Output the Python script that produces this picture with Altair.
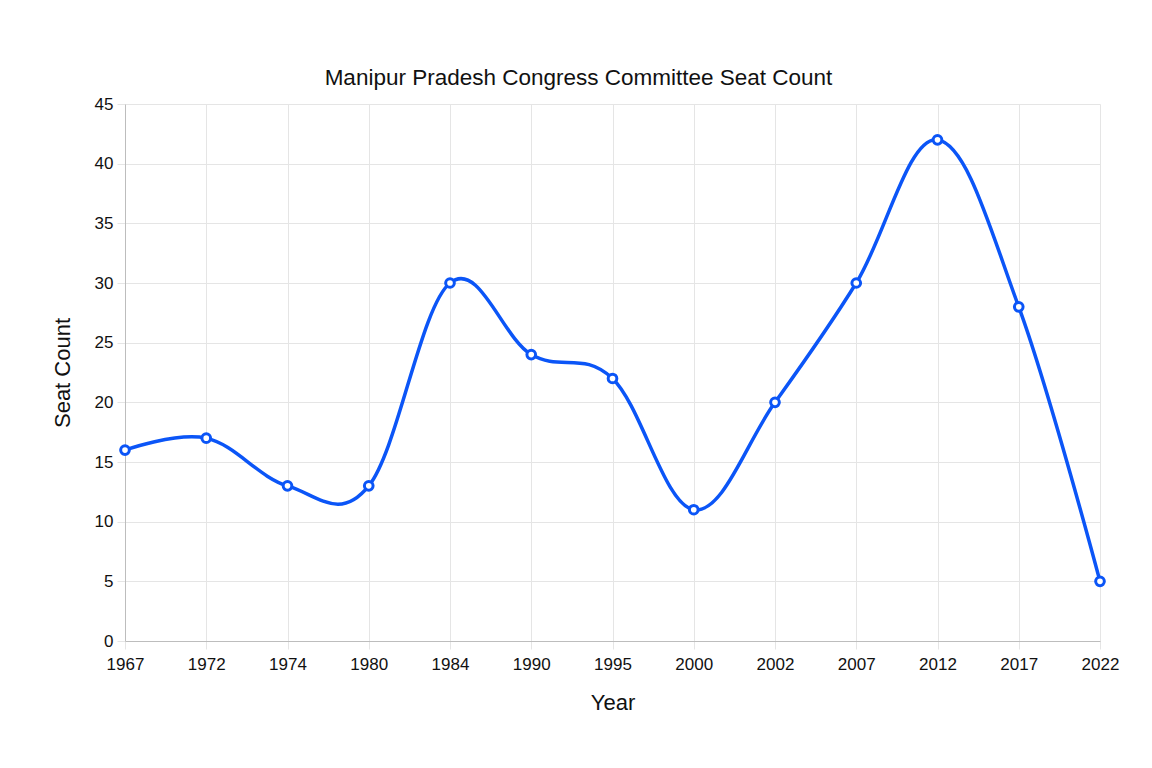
import altair as alt
import pandas as pd

years = ["1967", "1972", "1974", "1980", "1984", "1990", "1995", "2000", "2002", "2007", "2012", "2017", "2022"]
seats = [16, 17, 13, 13, 30, 24, 22, 11, 20, 30, 42, 28, 5]

df = pd.DataFrame({"Year": years, "Seats": seats})

FONT = "Liberation Sans"
BLUE = "#0b55f7"

x = alt.X("Year:O", sort=years, title="Year",
          scale=alt.Scale(type="point", padding=0),
          axis=alt.Axis(labelAngle=0, grid=True, titlePadding=20, labelPadding=7))
y = alt.Y("Seats:Q", title="Seat Count",
          scale=alt.Scale(domain=[0, 45], nice=False),
          axis=alt.Axis(values=list(range(0, 50, 5)), grid=True, titlePadding=20))

line = alt.Chart(df).mark_line(
    interpolate="cardinal", tension=-0.08, color=BLUE, strokeWidth=3.5
).encode(x=x, y=y)

pts = alt.Chart(df).mark_point(
    shape="circle", size=75, filled=True, fill="white", stroke=BLUE,
    strokeWidth=3, opacity=1
).encode(x=x, y=y)

chart = (line + pts).properties(
    width=975, height=537,
    padding={"left": 117, "top": 96, "right": 44, "bottom": 111},
    autosize=alt.AutoSizeParams(type="none"),
    title=alt.TitleParams(
        "Manipur Pradesh Congress Committee Seat Count",
        font=FONT, fontSize=22.5, fontWeight="normal", color="#111111",
        anchor="middle", frame="group", dx=-34, offset=6,
    ),
).configure_view(stroke=None).configure_axis(
    labelFont=FONT, labelFontSize=17, labelColor="#111111",
    titleFont=FONT, titleFontSize=22, titleFontWeight="normal", titleColor="#111111",
    domainColor="#bdbdbd", domainWidth=1,
    gridColor="#e5e5e5", gridWidth=1,
    tickColor="#e5e5e5", tickSize=8, labelPadding=4,
)

chart.save("out.html", embed_options={"renderer": "svg", "actions": False})
